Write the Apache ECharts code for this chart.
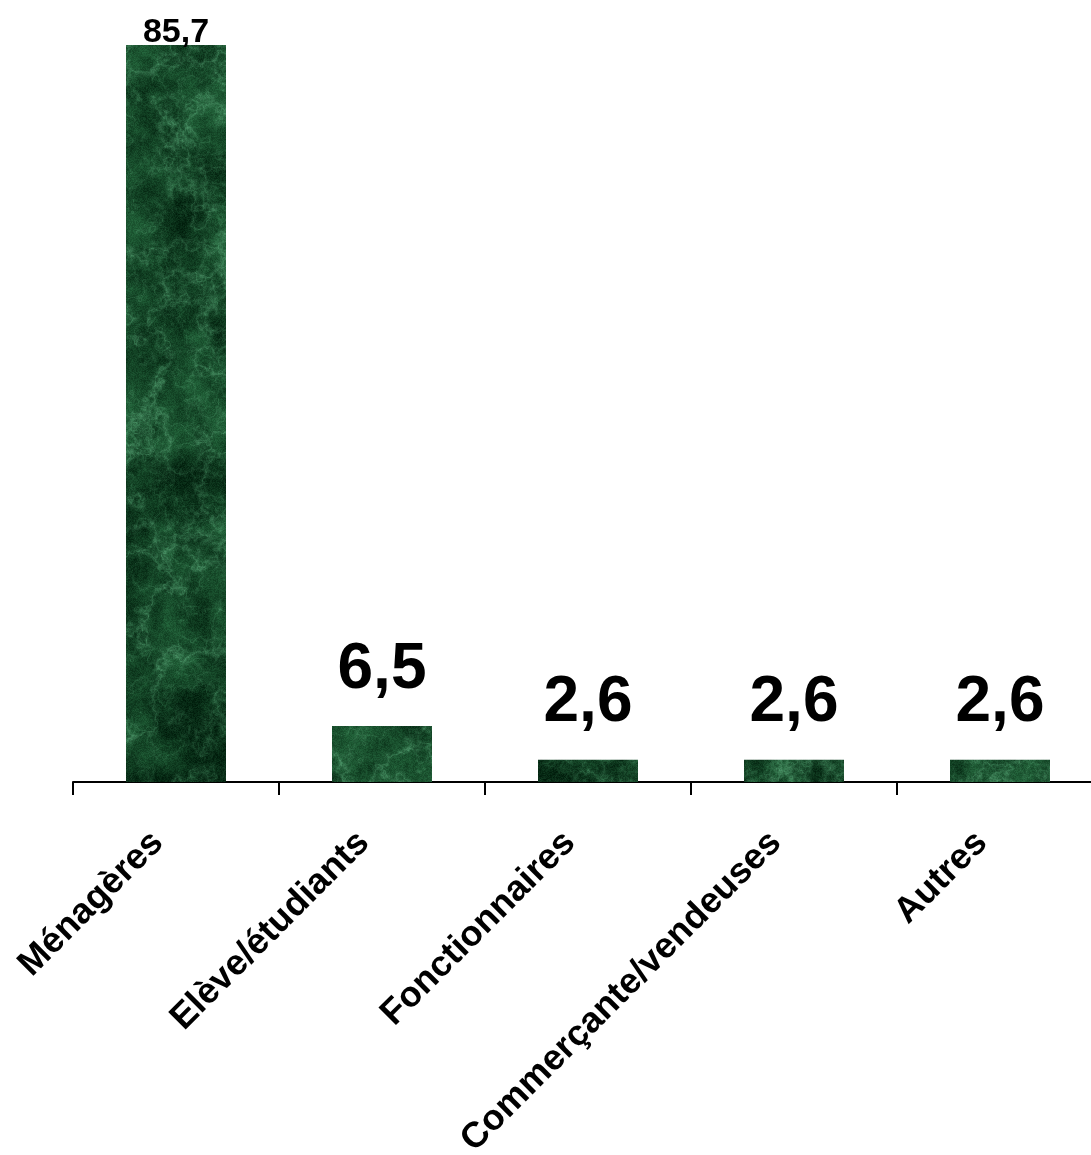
<!DOCTYPE html>
<html>
<head>
<meta charset="utf-8">
<script src="https://cdn.jsdelivr.net/npm/echarts@6/dist/echarts.min.js"></script>
<style>
  html, body { margin: 0; padding: 0; background: #ffffff; }
  #chart { width: 1091px; height: 1155px; }
</style>
</head>
<body>
<div id="chart"></div>
<script>
const categories = ['Ménagères', 'Elève/étudiants', 'Fonctionnaires', 'Commerçante/vendeuses', 'Autres'];
const values = [85.7, 6.5, 2.6, 2.6, 2.6];

// Green marble fill for the bars: seeded value noise with soft light veins
function marbleTile(w, h, seed) {
  let s = seed >>> 0;
  const rnd = () => { s = (Math.imul(s, 1664525) + 1013904223) >>> 0; return s / 4294967296; };

  function layer(cell) {
    const gw = Math.ceil(w / cell) + 2, gh = Math.ceil(h / cell) + 2;
    const grid = new Float32Array(gw * gh);
    for (let i = 0; i < grid.length; i++) grid[i] = rnd();
    const out = new Float32Array(w * h);
    for (let y = 0; y < h; y++) {
      const fy = y / cell, iy = Math.floor(fy);
      let ty = fy - iy; ty = ty * ty * (3 - 2 * ty);
      for (let x = 0; x < w; x++) {
        const fx = x / cell, ix = Math.floor(fx);
        let tx = fx - ix; tx = tx * tx * (3 - 2 * tx);
        const a = grid[iy * gw + ix], b = grid[iy * gw + ix + 1];
        const c = grid[(iy + 1) * gw + ix], d = grid[(iy + 1) * gw + ix + 1];
        const top = a + (b - a) * tx;
        out[y * w + x] = top + ((c + (d - c) * tx) - top) * ty;
      }
    }
    return out;
  }
  function fbm(cells, weights) {
    const acc = new Float32Array(w * h);
    let tot = 0;
    cells.forEach((c, k) => {
      const l = layer(c);
      for (let i = 0; i < acc.length; i++) acc[i] += l[i] * weights[k];
      tot += weights[k];
    });
    for (let i = 0; i < acc.length; i++) acc[i] /= tot;
    return acc;
  }

  const base = fbm([60, 28, 12, 5, 2], [0.4, 0.25, 0.18, 0.1, 0.07]);
  const vein = fbm([45, 20, 8, 3], [0.45, 0.3, 0.15, 0.1]);
  const vein2 = fbm([24, 10, 4], [0.5, 0.3, 0.2]);

  const dark = [5, 38, 18], mid = [30, 90, 52], light = [80, 152, 108];
  const c = document.createElement('canvas');
  c.width = w; c.height = h;
  const g = c.getContext('2d');
  const img = g.createImageData(w, h);
  const d = img.data;
  for (let i = 0; i < w * h; i++) {
    let t = (base[i] - 0.27) / 0.42;
    t = Math.max(0, Math.min(1, t));
    let r = dark[0] + (mid[0] - dark[0]) * t;
    let gg = dark[1] + (mid[1] - dark[1]) * t;
    let b = dark[2] + (mid[2] - dark[2]) * t;
    const r1 = Math.pow(1 - Math.abs(vein[i] * 2 - 1), 14);
    const r2 = Math.pow(1 - Math.abs(vein2[i] * 2 - 1), 20);
    const v = Math.min(1, r1 * 0.6 + r2 * 0.35) * (0.4 + 0.6 * t);
    r += (light[0] - r) * v;
    gg += (light[1] - gg) * v;
    b += (light[2] - b) * v;
    const n = (rnd() - 0.5) * 24;
    d[i * 4] = Math.max(0, Math.min(255, r + n * 0.5));
    d[i * 4 + 1] = Math.max(0, Math.min(255, gg + n));
    d[i * 4 + 2] = Math.max(0, Math.min(255, b + n * 0.7));
    d[i * 4 + 3] = 255;
  }
  g.putImageData(img, 0, 0);
  return c;
}

const tile = marbleTile(1100, 800, 20240611);
const fontFamily = '"Liberation Sans", Arial, Helvetica, sans-serif';
const fmt = v => String(v).replace('.', ',');

const seriesData = values.map((v, i) => {
  const item = { value: v };
  if (i === 0) {
    item.label = { fontSize: 34, distance: -5 };
  }
  return item;
});

const chart = echarts.init(document.getElementById('chart'), null, { renderer: 'canvas' });
chart.setOption({
  animation: false,
  backgroundColor: '#ffffff',
  grid: {
    left: 73, right: -12, top: 45, bottom: 373,
    containLabel: false,
    outerBoundsMode: 'none'
  },
  xAxis: {
    type: 'category',
    data: categories,
    boundaryGap: true,
    axisLine: { show: true, lineStyle: { color: '#000000', width: 2 } },
    axisTick: { show: true, length: 13, lineStyle: { color: '#000000', width: 2 } },
    axisLabel: {
      interval: 0,
      rotate: 45,
      margin: 37,
      color: '#000000',
      fontFamily: fontFamily,
      fontWeight: 'bold',
      fontSize: 36,
      padding: [0, 26, 0, 0]
    }
  },
  yAxis: {
    type: 'value',
    min: 0,
    max: v => v.max,
    show: false,
    splitLine: { show: false }
  },
  series: [{
    type: 'bar',
    data: seriesData,
    barWidth: 100,
    itemStyle: { color: { image: tile, repeat: 'repeat' } },
    label: {
      show: true,
      position: 'top',
      distance: 24,
      color: '#000000',
      fontFamily: fontFamily,
      fontWeight: 'bold',
      fontSize: 64,
      formatter: p => fmt(p.value)
    }
  }]
});
</script>
</body>
</html>
